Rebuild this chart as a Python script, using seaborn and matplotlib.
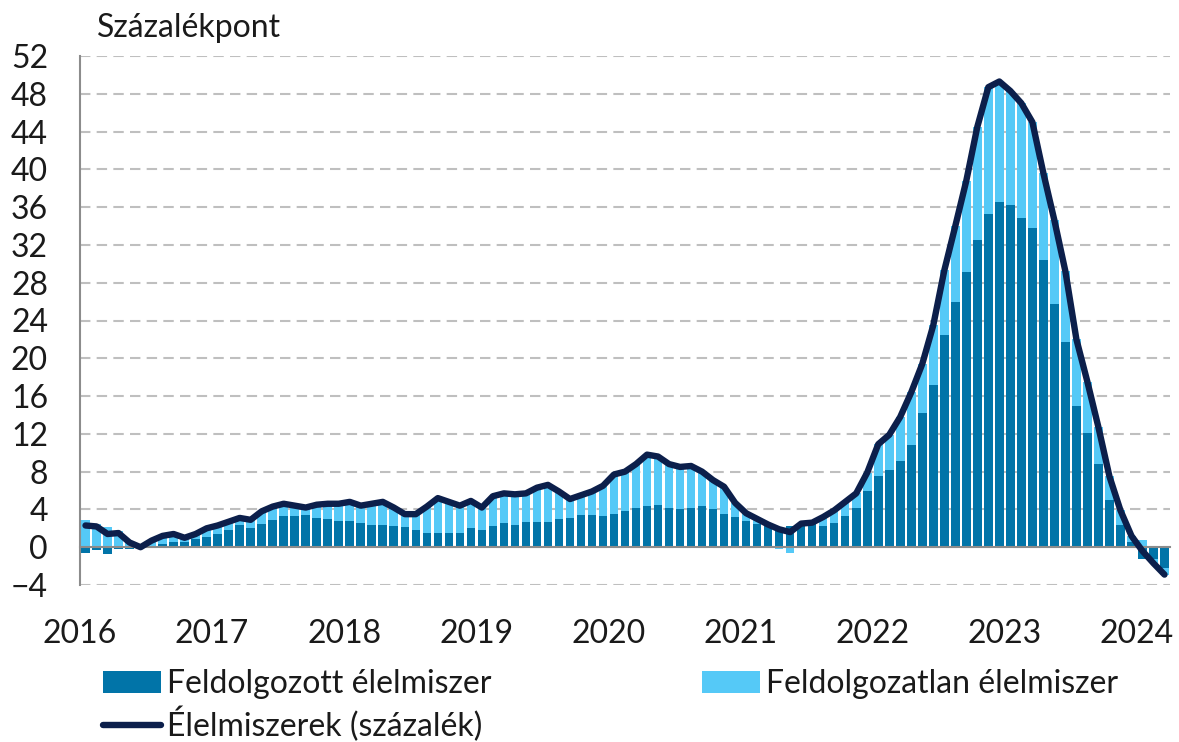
import matplotlib

matplotlib.use("Agg")

import matplotlib.pyplot as plt  # noqa: E402
import numpy as np  # noqa: E402
import pandas as pd  # noqa: E402
import seaborn as sns  # noqa: E402

# Monthly data, Jan 2016 - Mar 2024 (percentage-point contributions)
years = list(range(2016, 2025))
months = [f"{y}-{m:02d}" for y in years for m in range(1, 13)][:99]

processed = [
    -0.6, -0.3, -0.7, -0.2, -0.2, -0.1, 0.1, 0.3, 0.6, 0.6, 0.9, 1.1,
    1.4, 1.8, 2.4, 2.0, 2.5, 2.9, 3.3, 3.3, 3.4, 3.1, 3.0, 2.8,
    2.8, 2.6, 2.3, 2.4, 2.2, 2.1, 1.8, 1.5, 1.5, 1.5, 1.5, 2.0,
    1.8, 2.2, 2.6, 2.4, 2.7, 2.7, 2.7, 3.0, 3.1, 3.4, 3.4, 3.3,
    3.5, 3.8, 4.1, 4.4, 4.5, 4.2, 4.0, 4.2, 4.4, 4.0, 3.5, 3.2,
    2.8, 2.5, 2.2, 2.1, 2.2, 2.2, 2.5, 2.2, 2.6, 3.3, 4.1, 6.0,
    7.5, 8.2, 9.1, 10.8, 14.2, 17.2, 22.5, 26.0, 29.1, 32.5, 35.3, 36.5,
    36.2, 34.9, 33.8, 30.4, 25.7, 21.7, 15.0, 12.1, 8.8, 5.0, 2.4, 0.6,
    -1.2, -1.3, -2.2,
]
unprocessed = [
    2.9, 2.5, 2.1, 1.7, 0.7, 0.1, 0.6, 0.9, 0.8, 0.4, 0.5, 0.9,
    0.9, 0.9, 0.7, 0.9, 1.3, 1.4, 1.3, 1.1, 0.8, 1.4, 1.6, 1.8,
    2.0, 1.8, 2.3, 2.4, 2.0, 1.4, 1.7, 2.8, 3.7, 3.3, 2.9, 2.9,
    2.4, 3.2, 3.1, 3.2, 3.0, 3.6, 3.9, 2.9, 2.0, 2.1, 2.5, 3.2,
    4.2, 4.2, 4.7, 5.4, 5.1, 4.6, 4.5, 4.4, 3.6, 3.1, 2.9, 1.5,
    0.8, 0.5, 0.2, -0.2, -0.6, 0.3, 0.1, 1.0, 1.3, 1.5, 1.6, 1.9,
    3.4, 3.7, 4.7, 5.6, 5.2, 6.3, 6.8, 8.0, 9.7, 12.0, 13.4, 12.8,
    12.1, 12.1, 11.2, 9.2, 8.9, 7.5, 7.0, 5.4, 3.9, 2.5, 1.5, 0.6,
    0.8, -0.4, -0.7,
]
food_total = [
    2.3, 2.2, 1.4, 1.5, 0.5, 0.0, 0.7, 1.2, 1.4, 1.0, 1.4, 2.0,
    2.3, 2.7, 3.1, 2.9, 3.8, 4.3, 4.6, 4.4, 4.2, 4.5, 4.6, 4.6,
    4.8, 4.4, 4.6, 4.8, 4.2, 3.5, 3.5, 4.3, 5.2, 4.8, 4.4, 4.9,
    4.2, 5.4, 5.7, 5.6, 5.7, 6.3, 6.6, 5.9, 5.1, 5.5, 5.9, 6.5,
    7.7, 8.0, 8.8, 9.8, 9.6, 8.8, 8.5, 8.6, 8.0, 7.1, 6.4, 4.7,
    3.6, 3.0, 2.4, 1.9, 1.6, 2.5, 2.6, 3.2, 3.9, 4.8, 5.7, 7.9,
    10.9, 11.9, 13.8, 16.4, 19.4, 23.5, 29.3, 34.0, 38.8, 44.5, 48.7, 49.3,
    48.3, 47.0, 45.0, 39.6, 34.6, 29.2, 22.0, 17.5, 12.7, 7.5, 3.9, 1.2,
    -0.4, -1.7, -2.9,
]

LBL_PROC = "Feldolgozott élelmiszer"
LBL_UNP = "Feldolgozatlan élelmiszer"
LBL_TOTAL = "Élelmiszerek (százalék)"

DARK = "#0174A8"
LIGHT = "#55C9F7"
NAVY = "#0C1F4B"
GRID = "#BFBFBF"
AXIS = "#8C8C8C"
TEXT = "#1A1A1A"
FS = 23

sns.set_theme(style="white")
plt.rcParams["font.family"] = ["Lato", "DejaVu Sans"]

df = pd.DataFrame(
    {"month": months, "processed": processed, "unprocessed": unprocessed,
     "total": food_total}
)
proc = df["processed"].to_numpy()
unp = df["unprocessed"].to_numpy()
# positives stack on positives, negatives on negatives
base = np.where(unp >= 0, np.clip(proc, 0, None), np.clip(proc, None, 0))

fig = plt.figure(figsize=(11.79, 7.42), dpi=100)
ax = fig.add_axes([80 / 1179, 1 - 585 / 742, (1170 - 80) / 1179, (585 - 56) / 742])

sns.barplot(data=df, x="month", y="processed", color=DARK, saturation=1,
            width=0.78, linewidth=0, ax=ax, label=LBL_PROC)
sns.barplot(data=df, x="month", y="unprocessed", color=LIGHT, saturation=1,
            width=0.78, linewidth=0, bottom=base, ax=ax, label=LBL_UNP)
sns.lineplot(x=np.arange(len(df)), y=df["total"].to_numpy(), color=NAVY,
             lw=4.6, ax=ax, label=LBL_TOTAL, zorder=5,
             solid_capstyle="round", solid_joinstyle="round")

ax.set_xlim(-0.5, len(df) - 0.5)
ax.set_ylim(-4, 52)
ax.set_xticks(np.arange(0, len(df), 12) - 0.5, [str(y) for y in years])
ax.set_yticks(np.arange(-4, 53, 4))
ax.set_xlabel("")
ax.set_ylabel("")

ax.yaxis.grid(True, linestyle=(0, (5, 3)), color=GRID, linewidth=1.5)
ax.set_axisbelow(True)
ax.spines[["top", "right"]].set_visible(False)
ax.spines["bottom"].set_position(("data", 0))
for side in ("bottom", "left"):
    ax.spines[side].set_color(AXIS)
    ax.spines[side].set_linewidth(1.5)
    ax.spines[side].set_zorder(4)
ax.tick_params(axis="x", direction="out", length=6, width=1.5, color=AXIS,
               pad=46, labelsize=FS, labelcolor=TEXT)
ax.tick_params(axis="y", direction="out", length=7, width=1.5, color=AXIS,
               pad=16, labelsize=FS, labelcolor=TEXT)

fig.text(97 / 1179, 1 - 28 / 742, "Százalékpont", fontsize=FS, color=TEXT,
         va="center", ha="left")

handles, labels = ax.get_legend_handles_labels()
if ax.get_legend() is not None:
    ax.get_legend().remove()
by_label = dict(zip(labels, handles))
# column-major fill: proc / total in column 1, unprocessed in column 2
order = [LBL_PROC, LBL_TOTAL, LBL_UNP]
fig.legend([by_label[k] for k in order], order,
           loc="upper left", bbox_to_anchor=(103 / 1179, 1 - 669 / 742),
           ncol=2, frameon=False, fontsize=FS, labelcolor=TEXT,
           handlelength=1.8, handleheight=0.7, handletextpad=0.2,
           columnspacing=6.6, labelspacing=0.25, borderaxespad=0, borderpad=0)

fig.savefig("out.png", dpi=100)
